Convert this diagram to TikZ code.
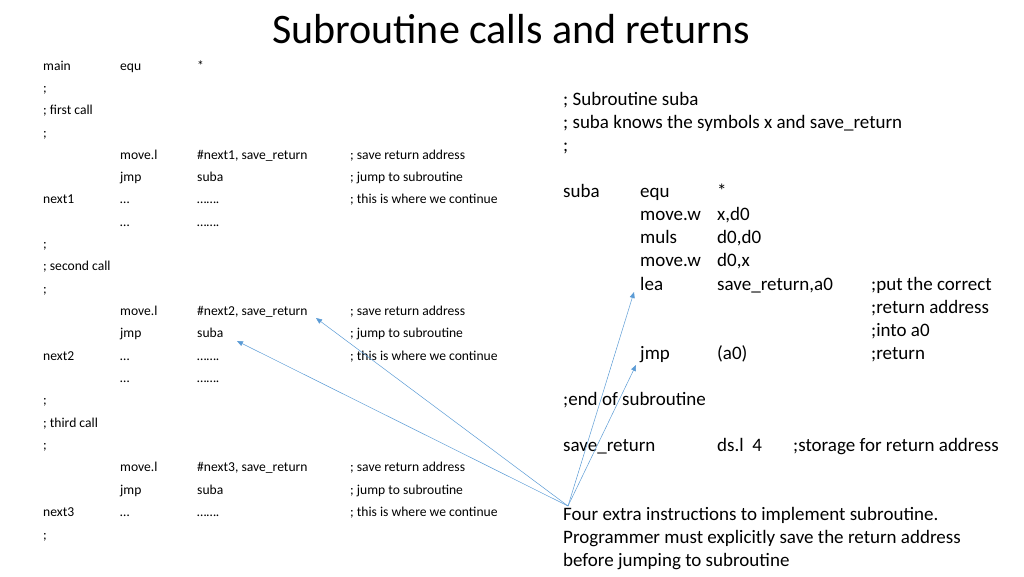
\documentclass[tikz,border=0pt]{standalone}
\usepackage{fontspec}
\setmainfont{Carlito}
\usetikzlibrary{arrows.meta}
\begin{document}
\begin{tikzpicture}[x=1pt,y=-1pt,
  sm/.style={anchor=west,inner sep=0pt,yshift=-1.5pt,text height=9pt,text depth=2.5pt,font=\fontsize{13.6}{15}\selectfont},
  bg/.style={anchor=west,inner sep=0pt,yshift=-2pt,text height=13pt,text depth=4pt,font=\fontsize{19}{22}\selectfont},
  conn/.style={draw={rgb,255:red,91;green,155;blue,213},line width=0.5pt,-{Triangle[length=6pt,width=5pt]}}]
\useasboundingbox (0,0) rectangle (1024,576);
\node[font=\fontsize{42}{48}\selectfont,inner sep=0pt] (title) at (511,29) {Subroutine calls and returns};
% left listing
\foreach \y/\a/\b/\c/\d [count=\i] in {
66/main/equ/*/,88/;///,110/; first call///,133/;///,
155//move.l/{\#next1, save\_return}/; save return address,
177//jmp/suba/; jump to subroutine,
199/next1/\dots/\dots\dots./; this is where we continue,
222//\dots/\dots\dots./,244/;///,266/; second call///,289/;///,
311//move.l/{\#next2, save\_return}/; save return address,
333//jmp/suba/; jump to subroutine,
356/next2/\dots/\dots\dots./; this is where we continue,
378//\dots/\dots\dots./,400/;///,423/; third call///,445/;///,
467//move.l/{\#next3, save\_return}/; save return address,
490//jmp/suba/; jump to subroutine,
512/next3/\dots/\dots\dots./; this is where we continue,
535/;///}{
  \node[sm] (la\i) at (43,\y) {\a};
  \node[sm] (lb\i) at (120,\y) {\b};
  \node[sm] (lc\i) at (197,\y) {\c};
  \node[sm] (ld\i) at (350,\y) {\d};
}
% right listing
\node[bg] (r1) at (563,99) {; Subroutine suba};
\node[bg] (r2) at (563,122) {; suba knows the symbols x and save\_return};
\node[bg] (r3) at (563,145) {;};
\node[bg] (s0) at (563,191) {suba};
\node[bg] (s1) at (640,191) {equ};   \node[bg] (t1) at (717,191) {*};
\node[bg] (s2) at (640,214) {move.w};\node[bg] (t2) at (717,214) {x,d0};
\node[bg] (s3) at (640,237) {muls};  \node[bg] (t3) at (717,237) {d0,d0};
\node[bg] (s4) at (640,260) {move.w};\node[bg] (t4) at (717,260) {d0,x};
\node[bg] (s5) at (640,284) {lea};   \node[bg] (t5) at (717,284) {save\_return,a0};
\node[bg] (u5) at (871,284) {;put the correct};
\node[bg] (u6) at (871,307) {;return address};
\node[bg] (u7) at (871,330) {;into a0};
\node[bg] (s8) at (640,353) {jmp};   \node[bg] (t8) at (717,353) {(a0)};
\node[bg] (u8) at (871,353) {;return};
\node[bg] (e1) at (563,399) {;end of subroutine};
\node[bg] (v1) at (563,445) {save\_return};
\node[bg] (v2) at (717,445) {ds.l\ \ 4};
\node[bg] (v3) at (793,445) {;storage for return address};
\node[bg] (n1) at (563,514) {Four extra instructions to implement subroutine.};
\node[bg] (n2) at (563,537) {Programmer must explicitly save the return address};
\node[bg] (n3) at (563,560) {before jumping to subroutine};
\coordinate (src) at (568,506);
\coordinate (tg1) at (316,318);
\coordinate (tg2) at (237,341);
\coordinate (tg3) at (634,292);
\coordinate (tg4) at (636,365);
\foreach \t in {tg1,tg2,tg3,tg4} \draw[conn] (src) -- (\t);
\end{tikzpicture}
\end{document}
